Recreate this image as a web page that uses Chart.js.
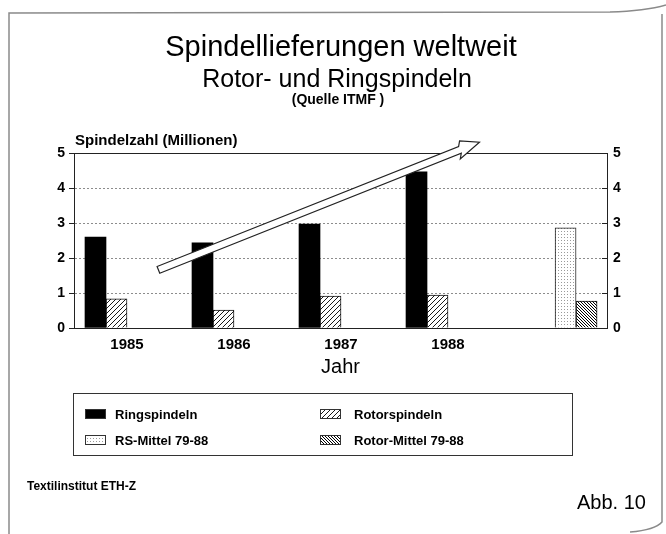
<!DOCTYPE html>
<html><head><meta charset="utf-8">
<script src="https://cdn.jsdelivr.net/npm/chart.js@4.4.1/dist/chart.umd.min.js"></script>
<style>html,body{margin:0;padding:0;background:#fff;}canvas{display:block;}</style>
</head><body>
<canvas id="c" width="666" height="534"></canvas>
<script>
// ---- data ----
const years = ['1985', '1986', '1987', '1988'];
const ringSpindles = [2.6, 2.43, 2.97, 4.46];
const rotorSpindles = [0.83, 0.51, 0.91, 0.94];
const ringMean = [2.86];
const rotorMean = [0.77];
const yTicks = [0, 1, 2, 3, 4, 5];
const seriesNames = ['Ringspindeln', 'Rotorspindeln', 'RS-Mittel 79-88', 'Rotor-Mittel 79-88'];
const trendFrom = [1985.49, 1.66];
const trendTo = [1988.49, 5.31];

// ---- layout constants ----
const FONT = '"Liberation Sans", Arial, Helvetica, sans-serif';
const MEAN_X = 1989.393;
const X_MIN = 1984.701, X_MAX = 1989.682;

function makePattern(kind) {
  const c = document.createElement('canvas');
  let s;
  if (kind === 'fwd') s = 5; else if (kind === 'back') s = 3; else s = 3;
  c.width = s; c.height = s;
  const g = c.getContext('2d');
  g.fillStyle = '#fff'; g.fillRect(0, 0, s, s);
  if (kind === 'dots') {
    g.fillStyle = '#9a9a9a';
    g.fillRect(0, 0, 1, 1);
  } else {
    g.strokeStyle = '#000';
    g.lineWidth = kind === 'back' ? 1 : 0.9;
    g.beginPath();
    if (kind === 'fwd') {
      g.moveTo(-1, s + 1); g.lineTo(s + 1, -1);
      g.moveTo(-1, 1); g.lineTo(1, -1);
      g.moveTo(s - 1, s + 1); g.lineTo(s + 1, s - 1);
    } else {
      g.moveTo(-1, -1); g.lineTo(s + 1, s + 1);
      g.moveTo(s - 1, -1); g.lineTo(s + 1, 1);
      g.moveTo(-1, s - 1); g.lineTo(1, s + 1);
    }
    g.stroke();
  }
  return document.getElementById('c').getContext('2d').createPattern(c, 'repeat');
}

const fills = ['#000', makePattern('fwd'), makePattern('dots'), makePattern('back')];

const datasets = [
  { label: seriesNames[0], data: years.map((y, i) => ({ x: +y, y: ringSpindles[i] })), stack: 'a',
    backgroundColor: fills[0], borderColor: '#000', borderWidth: 0 },
  { label: seriesNames[1], data: years.map((y, i) => ({ x: +y, y: rotorSpindles[i] })), stack: 'b',
    backgroundColor: fills[1], borderColor: '#111', borderWidth: 1 },
  { label: seriesNames[2], data: [{ x: MEAN_X, y: ringMean[0] }], stack: 'a',
    backgroundColor: fills[2], borderColor: '#222', borderWidth: 1 },
  { label: seriesNames[3], data: [{ x: MEAN_X, y: rotorMean[0] }], stack: 'b',
    backgroundColor: fills[3], borderColor: '#111', borderWidth: 1 }
];

const decor = {
  id: 'decor',
  afterDatasetsDraw(chart) {
    const ctx = chart.ctx, xs = chart.scales.x, ys = chart.scales.y, y2 = chart.scales.y2;
    // inward tick marks on the right axis
    ctx.save();
    ctx.strokeStyle = '#222'; ctx.lineWidth = 1;
    yTicks.forEach(v => {
      if (v === 0 || v === 5) return;
      const py = Math.round(y2.getPixelForValue(v)) + 0.5;
      ctx.beginPath(); ctx.moveTo(chart.chartArea.right - 5, py); ctx.lineTo(chart.chartArea.right, py); ctx.stroke();
    });
    ctx.restore();
    // hollow trend arrow
    const x1 = xs.getPixelForValue(trendFrom[0]), y1 = ys.getPixelForValue(trendFrom[1]);
    const x2 = xs.getPixelForValue(trendTo[0]), y2p = ys.getPixelForValue(trendTo[1]);
    const dx = x2 - x1, dy = y2p - y1, L = Math.hypot(dx, dy);
    const ux = dx / L, uy = dy / L, nx = -uy, ny = ux;
    const hw = 3.6, headW = 8.5, headL = 21;
    const bx = x2 - ux * headL, by = y2p - uy * headL;
    const P = (px, py, a, b) => [px + nx * a + ux * b, py + ny * a + uy * b];
    const pts = [
      P(x1, y1, hw, 0), P(bx, by, hw, 0), P(bx, by, headW, -3), [x2, y2p],
      P(bx, by, -headW, 3), P(bx, by, -hw, 0), P(x1, y1, -hw, 0)
    ];
    ctx.save();
    ctx.beginPath();
    pts.forEach((p, i) => i ? ctx.lineTo(p[0], p[1]) : ctx.moveTo(p[0], p[1]));
    ctx.closePath();
    ctx.fillStyle = '#fff'; ctx.fill();
    ctx.strokeStyle = '#222'; ctx.lineWidth = 1.2; ctx.lineJoin = 'miter'; ctx.stroke();
    ctx.restore();
  },
  afterDraw(chart) {
    const ctx = chart.ctx;
    ctx.save();
    ctx.fillStyle = '#000';
    const txt = (t, x, y, font, align) => { ctx.font = font; ctx.textAlign = align; ctx.textBaseline = 'alphabetic'; ctx.fillText(t, x, y); };
    txt('Spindellieferungen weltweit', 341, 56, '29px ' + FONT, 'center');
    txt('Rotor- und Ringspindeln', 337, 87, '25px ' + FONT, 'center');
    txt('(Quelle ITMF )', 338, 104, 'bold 14px ' + FONT, 'center');
    txt('Spindelzahl (Millionen)', 75, 145, 'bold 15px ' + FONT, 'left');
    txt('Textilinstitut ETH-Z', 27, 490, 'bold 12px ' + FONT, 'left');
    txt('Abb. 10', 577, 509, '20px ' + FONT, 'left');

    // legend box
    ctx.strokeStyle = '#333'; ctx.lineWidth = 1;
    ctx.strokeRect(73.5, 393.5, 499, 62);
    const colSw = [85, 320], colTx = [115, 354], rowY = [414, 440];
    chart.data.datasets.forEach((ds, i) => {
      const c = i % 2, r = Math.floor(i / 2);
      const sx = colSw[c], sy = rowY[r] - 5;
      ctx.fillStyle = ds.backgroundColor;
      ctx.fillRect(sx, sy, 21, 10);
      ctx.strokeStyle = '#333';
      ctx.strokeRect(sx + 0.5, sy + 0.5, 20, 9);
      ctx.fillStyle = '#000';
      ctx.font = 'bold 13px ' + FONT; ctx.textAlign = 'left'; ctx.textBaseline = 'middle';
      ctx.fillText(ds.label, colTx[c], rowY[r] + 1);
    });

    // page frame (scanned slide edge)
    ctx.strokeStyle = '#8a8a8a'; ctx.lineWidth = 1.5;
    ctx.beginPath();
    ctx.moveTo(9, 534); ctx.lineTo(9, 13); ctx.lineTo(610, 12);
    ctx.quadraticCurveTo(645, 11, 666, 5);
    ctx.stroke();
    ctx.beginPath();
    ctx.moveTo(662, 14); ctx.lineTo(662, 522);
    ctx.quadraticCurveTo(655, 530, 630, 532);
    ctx.stroke();
    ctx.restore();
  }
};

const tickFont = { family: FONT, size: 14, weight: 'bold' };
const setYTicks = s => { s.ticks = yTicks.map(v => ({ value: v })); };

new Chart(document.getElementById('c'), {
  type: 'bar',
  data: { datasets },
  options: {
    responsive: false,
    animation: false,
    devicePixelRatio: 1,
    layout: { padding: { top: 153, bottom: 155, left: 0, right: 0 } },
    barThickness: 21,
    plugins: { legend: { display: false }, tooltip: { enabled: false }, title: { display: false } },
    scales: {
      x: {
        type: 'linear', min: X_MIN, max: X_MAX, offset: false,
        afterBuildTicks: s => { s.ticks = years.map(y => ({ value: +y })); },
        ticks: { callback: v => String(v), font: { family: FONT, size: 15, weight: 'bold' }, color: '#000',
                 labelOffset: 21, padding: 8, autoSkip: false, maxRotation: 0 },
        grid: { display: false, drawTicks: false, offset: false },
        border: { display: true, color: '#222', width: 1 },
        title: { display: true, text: 'Jahr', font: { family: FONT, size: 20 }, color: '#000', padding: 0 },
        afterFit: s => { s.height = 51; }
      },
      y: {
        position: 'left', min: 0, max: 5, stacked: false,
        afterBuildTicks: setYTicks,
        ticks: { font: tickFont, color: '#000', padding: 4 },
        grid: {
          color: c => (c.tick && c.tick.value === 5) ? '#222' : (c.tick && c.tick.value === 0 ? 'rgba(0,0,0,0)' : '#8c8c8c'),
          lineWidth: 1, tickLength: 5, tickColor: '#222'
        },
        border: { display: true, color: '#222', width: 1, dash: c => (c.tick && c.tick.value === 5) ? [] : [2, 2] },
        afterFit: s => { s.width = 74; }
      },
      y2: {
        position: 'right', min: 0, max: 5,
        afterBuildTicks: setYTicks,
        ticks: { font: tickFont, color: '#000', padding: 6 },
        grid: { drawOnChartArea: false, drawTicks: false },
        border: { display: true, color: '#222', width: 1 },
        afterFit: s => { s.width = 59; }
      }
    }
  },
  plugins: [decor]
});
</script>
</body></html>
